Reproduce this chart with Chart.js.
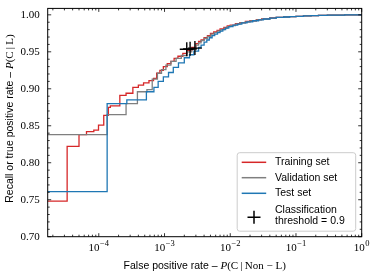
<!DOCTYPE html>
<html>
<head>
<meta charset="utf-8">
<script src="https://cdn.jsdelivr.net/npm/chart.js@4.4.0/dist/chart.umd.min.js"></script>
<style>
  html, body { margin: 0; padding: 0; background: #fff; }
</style>
</head>
<body>
<canvas id="roc" width="373" height="273"></canvas>
<script>
// ROC curves: each point = (fpr where the step happens, tpr after it)
var trainFpr = [1e-5, 3.3e-5, 5.0e-5, 6.5e-5, 8.4e-5, 9.9e-5, 1.19e-4, 1.4e-4, 1.5e-4, 2.09e-4, 2.6e-4, 3.3e-4, 4.0e-4, 4.8e-4, 5.8e-4, 6.8e-4, 7.6e-4, 8.5e-4, 9.6e-4, 1.1e-3, 1.25e-3, 1.4e-3, 1.6e-3, 1.9e-3, 2.2e-3, 2.6e-3, 3.0e-3, 3.3e-3, 3.6e-3, 4.0e-3, 4.5e-3, 5.0e-3, 5.6e-3, 6.3e-3, 7.0e-3, 8.0e-3, 9.0e-3, 1.0e-2, 1.2e-2, 1.4e-2, 1.7e-2, 2.0e-2, 2.5e-2, 3.0e-2, 4.0e-2, 5.0e-2, 6.5e-2, 8.0e-2, 0.1, 0.13, 0.17, 0.22, 0.3, 0.4, 0.55, 0.7, 1]
var trainTpr = [0.748, 0.822, 0.838, 0.842, 0.844, 0.851, 0.864, 0.875, 0.877, 0.891, 0.894, 0.902, 0.905, 0.908, 0.911, 0.914, 0.921, 0.925, 0.930, 0.934, 0.937, 0.941, 0.944, 0.948, 0.952, 0.956, 0.961, 0.964, 0.966, 0.969, 0.972, 0.975, 0.977, 0.979, 0.981, 0.983, 0.985, 0.986, 0.988, 0.9895, 0.991, 0.992, 0.9935, 0.9945, 0.9958, 0.9966, 0.9972, 0.9977, 0.998, 0.9985, 0.9989, 0.9992, 0.9995, 0.9997, 0.9999, 0.99995, 1.0]

var valFpr = [1e-5, 1.34e-4, 2.6e-4, 3.87e-4, 5.4e-4, 6.5e-4, 7.8e-4, 9.0e-4, 1.05e-3, 1.25e-3, 1.5e-3, 1.8e-3, 2.2e-3, 2.6e-3, 3.0e-3, 3.3e-3, 3.6e-3, 4.0e-3, 4.5e-3, 5.1e-3, 5.7e-3, 6.4e-3, 7.2e-3, 8.1e-3, 9.0e-3, 1.0e-2, 1.2e-2, 1.4e-2, 1.7e-2, 2.0e-2, 2.5e-2, 3.0e-2, 4.0e-2, 5.0e-2, 6.5e-2, 8.0e-2, 0.1, 0.13, 0.17, 0.22, 0.3, 0.4, 0.55, 0.7, 1]
var valTpr = [0.838, 0.865, 0.880, 0.896, 0.899, 0.913, 0.921, 0.926, 0.932, 0.937, 0.941, 0.945, 0.950, 0.954, 0.959, 0.962, 0.965, 0.968, 0.971, 0.974, 0.976, 0.978, 0.980, 0.982, 0.984, 0.9855, 0.9875, 0.989, 0.9905, 0.9917, 0.9932, 0.9943, 0.9956, 0.9965, 0.9971, 0.9976, 0.998, 0.9985, 0.9989, 0.9992, 0.9995, 0.9997, 0.9999, 0.99995, 1.0]

var testFpr = [1e-5, 1.34e-4, 2.67e-4, 5.3e-4, 6.9e-4, 8.0e-4, 9.6e-4, 1.15e-3, 1.36e-3, 1.63e-3, 2.0e-3, 2.4e-3, 2.8e-3, 3.3e-3, 3.6e-3, 4.0e-3, 4.4e-3, 4.8e-3, 5.3e-3, 5.8e-3, 6.4e-3, 7.0e-3, 7.7e-3, 8.5e-3, 9.5e-3, 1.1e-2, 1.3e-2, 1.5e-2, 1.8e-2, 2.2e-2, 2.7e-2, 3.2e-2, 4.0e-2, 5.0e-2, 6.5e-2, 8.0e-2, 0.1, 0.13, 0.17, 0.22, 0.3, 0.4, 0.55, 0.7, 1]
var testTpr = [0.761, 0.880, 0.885, 0.896, 0.902, 0.910, 0.916, 0.922, 0.929, 0.935, 0.942, 0.946, 0.951, 0.956, 0.959, 0.963, 0.966, 0.969, 0.972, 0.974, 0.976, 0.978, 0.980, 0.982, 0.984, 0.986, 0.9875, 0.989, 0.9905, 0.992, 0.9933, 0.9944, 0.9956, 0.9965, 0.9971, 0.9976, 0.998, 0.9985, 0.9989, 0.9992, 0.9995, 0.9997, 0.9999, 0.99995, 1.0]

// operating points at threshold 0.9 (train, validation, test)
var threshFpr = [2.18e-3, 2.45e-3, 2.9e-3]
var threshTpr = [0.9535, 0.954, 0.955]

var xTickVals = [1e-4, 1e-3, 1e-2, 1e-1, 1]
var yTickVals = [0.70, 0.75, 0.80, 0.85, 0.90, 0.95, 1.00]
var legendLabels = [['Training set'], ['Validation set'], ['Test set'], ['Classification', 'threshold = 0.9']]

var SANS = '"Liberation Sans", Arial, sans-serif'
var SERIF = '"Liberation Serif", "Times New Roman", serif'

function pts (xs, ys) {
  return xs.map(function (x, i) { return { x: x, y: ys[i] } })
}

// draw a row of text pieces in different fonts, centred on (x, y)
function drawRuns (ctx, runs, x, y, angle) {
  ctx.save()
  ctx.translate(x, y)
  ctx.rotate(angle)
  var total = 0
  runs.forEach(function (r) { ctx.font = r[1]; total += ctx.measureText(r[0]).width })
  var cx = -total / 2
  ctx.textBaseline = 'middle'
  ctx.textAlign = 'left'
  ctx.fillStyle = '#000'
  runs.forEach(function (r) {
    ctx.font = r[1]
    ctx.fillText(r[0], cx, 0)
    cx += ctx.measureText(r[0]).width
  })
  ctx.restore()
}

function crossAt (ctx, x, y, r) {
  ctx.moveTo(x - r, y); ctx.lineTo(x + r, y)
  ctx.moveTo(x, y - r); ctx.lineTo(x, y + r)
}

// inward ticks on all four sides, frame, x labels with exponents, axis titles
var axesDecor = {
  id: 'axesDecor',
  afterDatasetsDraw: function (chart) {
    var ctx = chart.ctx
    var a = chart.chartArea
    var xs = chart.scales.x
    var ys = chart.scales.y
    ctx.save()
    ctx.strokeStyle = '#000'
    ctx.lineWidth = 0.8
    ctx.beginPath()
    for (var e = -5; e <= 0; e++) {
      for (var m = 1; m <= 9; m++) {
        var v = m * Math.pow(10, e)
        if (v < xs.min || v > xs.max) continue
        var px = xs.getPixelForValue(v)
        var len = m === 1 ? 3.5 : 2
        ctx.moveTo(px, a.bottom); ctx.lineTo(px, a.bottom - len)
        ctx.moveTo(px, a.top); ctx.lineTo(px, a.top + len)
      }
    }
    for (var i = 70; i <= 100; i++) {
      var py = ys.getPixelForValue(i / 100)
      var l = i % 5 === 0 ? 3.5 : 2
      ctx.moveTo(a.left, py); ctx.lineTo(a.left + l, py)
      ctx.moveTo(a.right, py); ctx.lineTo(a.right - l, py)
    }
    ctx.stroke()
    ctx.lineWidth = 1
    ctx.strokeRect(a.left, a.top, a.right - a.left, a.bottom - a.top)

    // x tick labels: 10 with superscript exponent
    ctx.fillStyle = '#000'
    ctx.textBaseline = 'alphabetic'
    ctx.textAlign = 'left'
    xTickVals.forEach(function (v) {
      var ex = Math.round(Math.log10(v))
      var sup = (ex < 0 ? '\u2212' : '') + Math.abs(ex)
      ctx.font = '11px ' + SERIF
      var wb = ctx.measureText('10').width
      ctx.font = '8.5px ' + SERIF
      var we = ctx.measureText(sup).width
      var x0 = xs.getPixelForValue(v) - (wb + we + 0.5) / 2
      ctx.font = '11px ' + SERIF
      ctx.fillText('10', x0, a.bottom + 14)
      ctx.font = '8.5px ' + SERIF
      ctx.fillText(sup, x0 + wb + 0.5, a.bottom + 9.5)
    })
    ctx.restore()

    drawRuns(ctx, [
      ['False positive rate \u2013 ', '10.5px ' + SANS],
      ['P', 'italic 11px ' + SERIF],
      ['(C\u2009|\u2009Non \u2212 L)', '11px ' + SERIF]
    ], (a.left + a.right) / 2, 266, 0)
    drawRuns(ctx, [
      ['Recall or true positive rate \u2013 ', '10.5px ' + SANS],
      ['P', 'italic 11px ' + SERIF],
      ['(C\u2009|\u2009L)', '11px ' + SERIF]
    ], 10, (a.top + a.bottom) / 2 - 4, -Math.PI / 2)
  }
}

var legendBox = {
  id: 'legendBox',
  afterDraw: function (chart) {
    var ctx = chart.ctx
    var a = chart.chartArea
    var bw = 118.5
    var bh = 78.5
    var bx = a.right - 6 - bw
    var by = a.bottom - 5.5 - bh
    ctx.save()
    ctx.beginPath()
    ctx.roundRect(bx, by, bw, bh, 2.5)
    ctx.fillStyle = 'rgba(255,255,255,0.85)'
    ctx.fill()
    ctx.strokeStyle = '#cccccc'
    ctx.lineWidth = 1
    ctx.stroke()

    var rows = [9.6, 25, 40.6, 62.6]
    ctx.font = '10.5px ' + SANS
    ctx.textBaseline = 'middle'
    ctx.textAlign = 'left'
    chart.data.datasets.forEach(function (ds, i) {
      var y = by + rows[i]
      ctx.strokeStyle = ds.borderColor
      ctx.beginPath()
      if (i < 3) {
        ctx.lineWidth = 1.5
        ctx.moveTo(bx + 4.5, y); ctx.lineTo(bx + 29, y)
      } else {
        ctx.lineWidth = 1.5
        crossAt(ctx, bx + 16.8, y + 2, 6.5)
      }
      ctx.stroke()
      ctx.fillStyle = '#000'
      var lines = legendLabels[i]
      lines.forEach(function (t, k) {
        var ty = lines.length === 1 ? y : y - 5.3 + k * 10.7
        ctx.fillText(t, bx + 37.8, ty)
      })
    })
    ctx.restore()
  }
}

var ctx = document.getElementById('roc')
// eslint-disable-next-line no-unused-vars
var rocChart = new Chart(ctx, {
  type: 'line',
  data: {
    datasets: [{
      label: legendLabels[0][0],
      data: pts(trainFpr, trainTpr),
      borderColor: '#d62728',
      borderWidth: 1.3,
      stepped: 'before',
      pointRadius: 0,
      order: 3
    }, {
      label: legendLabels[1][0],
      data: pts(valFpr, valTpr),
      borderColor: '#7f7f7f',
      borderWidth: 1.3,
      stepped: 'before',
      pointRadius: 0,
      order: 2
    }, {
      label: legendLabels[2][0],
      data: pts(testFpr, testTpr),
      borderColor: '#1f77b4',
      borderWidth: 1.3,
      stepped: 'before',
      pointRadius: 0,
      order: 1
    }, {
      type: 'scatter',
      label: legendLabels[3].join(' '),
      data: pts(threshFpr, threshTpr),
      borderColor: '#000',
      backgroundColor: '#000',
      pointStyle: 'cross',
      pointRadius: 7,
      pointBorderWidth: 1.4,
      showLine: false,
      order: 0
    }]
  },
  options: {
    responsive: false,
    animation: false,
    events: [],
    layout: { padding: { top: 2.7, right: 11.3, left: 0, bottom: 0 } },
    plugins: {
      legend: { display: false },
      tooltip: { enabled: false }
    },
    scales: {
      x: {
        type: 'logarithmic',
        min: 1.67e-5,
        max: 1,
        grid: { display: false },
        border: { display: false },
        ticks: { display: false },
        afterBuildTicks: function (s) { s.ticks = xTickVals.map(function (v) { return { value: v } }) },
        afterFit: function (s) { s.height = 36.3; s.paddingLeft = 0; s.paddingRight = 0 }
      },
      y: {
        type: 'linear',
        min: 0.70,
        max: 1.0087,
        grid: { display: false, drawTicks: false },
        border: { display: false },
        ticks: {
          padding: 8,
          color: '#000',
          font: { family: SERIF, size: 11 },
          callback: function (v) { return v.toFixed(2) }
        },
        afterBuildTicks: function (s) { s.ticks = yTickVals.map(function (v) { return { value: v } }) },
        afterFit: function (s) { s.width = 47.7; s.paddingTop = 0; s.paddingBottom = 0 }
      }
    }
  },
  plugins: [axesDecor, legendBox]
})
</script>
</body>
</html>
